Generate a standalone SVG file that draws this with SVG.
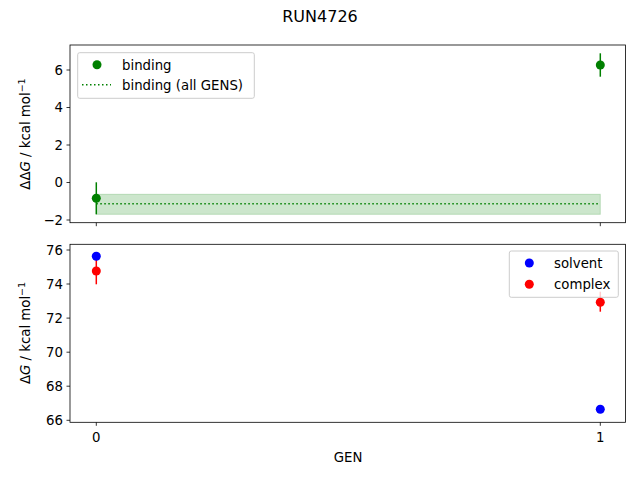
<svg xmlns="http://www.w3.org/2000/svg" width="640" height="480" viewBox="0 0 640 480">
<style>
text{font-family:"DejaVu Sans",sans-serif;font-size:13.3px;fill:#000}
.ax{fill:none;stroke:#000;stroke-width:0.8}
.tk{stroke:#000;stroke-width:0.8}
.yt{text-anchor:end;dominant-baseline:central}
.xt{text-anchor:middle}
.leg{fill:#fff;fill-opacity:0.8;stroke:#ccc;stroke-width:1}
</style>
<rect width="640" height="480" fill="#fff"/>
<text x="320" y="22" class="xt" style="font-size:16px">RUN4726</text>
<g id="top">
<rect x="96.3" y="194.3" width="504" height="20" fill="#008000" fill-opacity="0.2" stroke="#008000" stroke-opacity="0.2"/>
<line x1="96.3" y1="203.7" x2="600.3" y2="203.7" stroke="#008000" stroke-width="1.5" stroke-dasharray="1.5,2.5"/>
<line x1="96.3" y1="182.3" x2="96.3" y2="214.3" stroke="#008000" stroke-width="1.5"/>
<line x1="600.3" y1="53.3" x2="600.3" y2="76.7" stroke="#008000" stroke-width="1.5"/>
<circle cx="96.3" cy="198.3" r="4.5" fill="#008000"/>
<circle cx="600.3" cy="65" r="4.5" fill="#008000"/>
<rect class="ax" x="70" y="45" width="555.5" height="177.7"/>
<g class="tk"><line x1="66.5" y1="70" x2="70" y2="70"/><line x1="66.5" y1="107.5" x2="70" y2="107.5"/><line x1="66.5" y1="145" x2="70" y2="145"/><line x1="66.5" y1="182.5" x2="70" y2="182.5"/><line x1="66.5" y1="220" x2="70" y2="220"/>
<line x1="96.3" y1="222.7" x2="96.3" y2="226.2"/><line x1="600.3" y1="222.7" x2="600.3" y2="226.2"/></g>
<text class="yt" x="63" y="70">6</text><text class="yt" x="63" y="107.5">4</text><text class="yt" x="63" y="145">2</text><text class="yt" x="63" y="182.5">0</text><text class="yt" x="63" y="220">−2</text>
<text transform="translate(30,134) rotate(-90)" class="xt">ΔΔ<tspan font-style="italic">G</tspan> / kcal mol<tspan dy="-5" font-size="9.5">−1</tspan></text>
<g id="legend-top">
<rect class="leg" x="77.7" y="52.7" width="176.6" height="45.6" rx="2"/>
<circle cx="97" cy="64.7" r="4.5" fill="#008000"/>
<line x1="82" y1="84.7" x2="111" y2="84.7" stroke="#008000" stroke-width="1.5" stroke-dasharray="1.5,2.5"/>
<text x="122" y="69.5">binding</text>
<text x="122" y="89.5">binding (all GENS)</text>
</g>
</g>
<g id="bottom">
<line x1="96.3" y1="256" x2="96.3" y2="284.3" stroke="#ff0000" stroke-width="1.5"/>
<line x1="600.3" y1="291.7" x2="600.3" y2="311.7" stroke="#ff0000" stroke-width="1.5"/>
<circle cx="96.3" cy="256.3" r="4.5" fill="#0000ff"/>
<circle cx="96.3" cy="271" r="4.5" fill="#ff0000"/>
<circle cx="600.3" cy="302.3" r="4.5" fill="#ff0000"/>
<circle cx="600.3" cy="409.3" r="4.5" fill="#0000ff"/>
<rect class="ax" x="70" y="244.3" width="555.5" height="178"/>
<g class="tk"><line x1="66.5" y1="250" x2="70" y2="250"/><line x1="66.5" y1="284" x2="70" y2="284"/><line x1="66.5" y1="318.1" x2="70" y2="318.1"/><line x1="66.5" y1="352.2" x2="70" y2="352.2"/><line x1="66.5" y1="386.2" x2="70" y2="386.2"/><line x1="66.5" y1="420.3" x2="70" y2="420.3"/>
<line x1="96.3" y1="422.3" x2="96.3" y2="425.8"/><line x1="600.3" y1="422.3" x2="600.3" y2="425.8"/></g>
<text class="yt" x="63" y="250">76</text><text class="yt" x="63" y="284">74</text><text class="yt" x="63" y="318.1">72</text><text class="yt" x="63" y="352.2">70</text><text class="yt" x="63" y="386.2">68</text><text class="yt" x="63" y="420.3">66</text>
<text class="xt" x="96.3" y="442">0</text><text class="xt" x="600.3" y="442">1</text>
<text class="xt" x="348" y="462">GEN</text>
<text transform="translate(30,333) rotate(-90)" class="xt">Δ<tspan font-style="italic">G</tspan> / kcal mol<tspan dy="-5" font-size="9.5">−1</tspan></text>
<g id="legend-bottom">
<rect class="leg" x="509.3" y="251" width="109" height="46.3" rx="2"/>
<circle cx="529.3" cy="263" r="4.5" fill="#0000ff"/>
<circle cx="529.3" cy="284.3" r="4.5" fill="#ff0000"/>
<text x="554" y="267.8">solvent</text>
<text x="554" y="289">complex</text>
</g>
</g>
</svg>
